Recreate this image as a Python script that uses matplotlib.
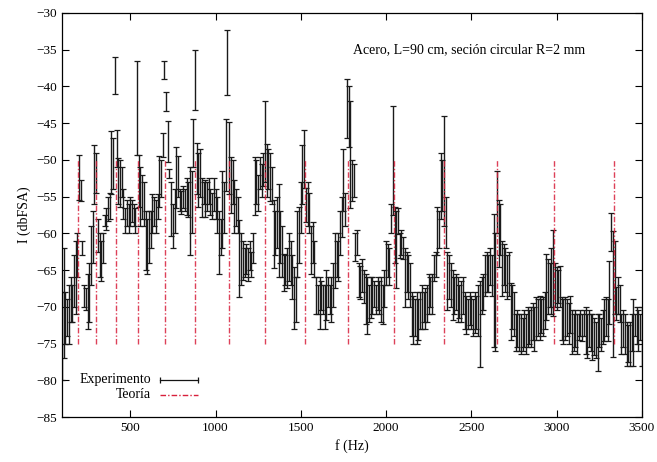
import numpy as np
import matplotlib
matplotlib.use("Agg")
import matplotlib.pyplot as plt

plt.rcParams['font.family'] = ['Liberation Serif', 'DejaVu Serif']

# Experimental spectrum: frequency grid (Hz) and error-bar limits (dBFSA)
freq = np.arange(100, 3501, 10)
low = [
    -80, -77, -75, -74, -75, -72, -72, -70, -71, -66,
    -55.5, -55.6, -63, -70, -70.5, -73, -72, -67, -64, -56,
    -54.5, -62.5, -66, -66.5, -64, -59, -59.5, -58.3, -58, -54.6,
    -54, -41, -51, -56, -56.4, -55, -58, -60, -59, -60,
    -59, -58.5, -59, -60, -49.3, -56.4, -59, -58, -59, -65,
    -65.5, -64, -62, -60, -59, -60, -58, -56.4, -55, -49.6,
    -39, -43.4, -50.3, -52.5, -60.4, -62, -60, -56.5, -55, -57,
    -57.4, -56.5, -57, -57.5, -57.8, -63, -60, -51, -43.2, -54.6,
    -56.4, -55, -57.8, -56, -57.8, -57, -56, -57.5, -58, -57,
    -58, -60, -65.6, -63, -62, -60, -54.2, -41.2, -54.6, -57.2,
    -56, -60, -59, -60, -68.7, -67, -66.4, -66, -65.5, -66.5,
    -65, -66, -64, -57.5, -56, -57, -54, -55, -53.5, -53,
    -55, -54, -55.6, -56, -64.7, -63, -62, -66, -64, -66,
    -67.8, -67, -67.5, -66.5, -67, -69, -73, -72, -66, -64,
    -60, -56, -53.8, -58.5, -59, -60, -65.6, -64, -66, -71,
    -71, -73, -70.5, -71, -73, -71.8, -70, -71, -72, -70,
    -67.5, -66, -66.5, -63, -60.5, -57, -59, -47, -48.3, -56.5,
    -55.6, -55, -63.8, -63, -68.7, -69, -68, -69.5, -72.3, -73.7,
    -72, -71.5, -71, -70, -71, -70.5, -71, -72, -72.3, -70,
    -67, -66, -67, -60, -57.5, -64, -67.4, -60.1, -63.3, -63,
    -63.5, -70, -68, -69, -70, -74, -75, -74, -75, -74.5,
    -73, -73, -72, -73, -72, -71, -70, -71, -66.5, -66,
    -63, -62, -58, -57, -59, -62, -70.5, -69, -70, -71.8,
    -71, -70.5, -72, -71.5, -72, -71, -73, -73.7, -73, -72.5,
    -73, -74, -73.5, -73, -74, -78.2, -71, -70.5, -68.5, -68,
    -68, -67, -68.5, -75.5, -76, -60, -64.6, -63, -68.5, -67,
    -68, -69, -68.5, -74.5, -73, -74, -76, -75.5, -76, -76.4,
    -76, -75.5, -76.4, -75.5, -75, -75.5, -74.5, -76, -74.5, -74,
    -74.5, -73.5, -74, -73, -71.8, -71, -70, -71, -71.3, -70,
    -70.5, -69.5, -70, -74.5, -75, -74.5, -74, -75, -73.5, -76.4,
    -76, -75.5, -76.4, -74.5, -74, -74.6, -74, -76.4, -76.9, -75.5,
    -76, -77.3, -76.5, -77, -78.7, -75.5, -76, -75, -74.6, -74,
    -74.6, -72.3, -62.4, -76.8, -71, -71.8, -71, -72, -76.4, -75.5,
    -76.4, -78, -77.5, -78, -76, -78, -74, -75, -76, -74.5,
    -78,
]
high = [
    -68, -62, -68, -69, -67, -66, -67, -63, -61, -60,
    -49.4, -52.8, -61, -67, -67.5, -65.5, -64, -59, -57, -48,
    -49, -58, -60, -61, -60, -57.5, -56.5, -55, -54.5, -46,
    -47, -36, -45.9, -49.7, -50, -51, -54, -56.5, -55.5, -56,
    -55, -55.5, -56, -56.5, -36.6, -49.3, -51, -52, -53, -57,
    -58, -57, -57, -54.6, -55, -55.5, -54.6, -49.5, -50, -46.3,
    -36.6, -40.7, -44.7, -51.3, -53, -56, -54, -48.2, -49.5, -54,
    -54.2, -53.5, -54, -52.5, -53, -51, -51.5, -44.5, -35, -47.7,
    -49, -48.5, -52.4, -53, -52.8, -53, -52.5, -54, -54.5, -52.4,
    -54, -55, -57, -58, -51.5, -53, -44.5, -32.3, -44.9, -49.6,
    -50, -52.8, -54, -55, -58.2, -60, -61, -62, -61.5, -62,
    -61, -62.5, -60, -49.6, -50, -52, -49.6, -50.5, -49, -42,
    -47.8, -48.5, -49, -51, -55.5, -57, -55, -53.3, -57, -59,
    -62.8, -63, -62, -60, -61, -63, -64.6, -66, -57, -56.4,
    -53, -48, -45.9, -53.8, -53, -54.5, -59, -58.5, -61, -66,
    -67, -66, -66.5, -67, -67, -65, -66, -67, -66, -64,
    -60, -61, -60, -57, -55, -48.5, -54.5, -39, -40, -42,
    -50, -50.5, -60, -59.5, -64, -64.5, -63.5, -65, -65.5, -66,
    -67, -66, -66, -66.5, -67, -66, -66.5, -66, -67, -65,
    -61, -61.5, -62, -56, -42.7, -56.4, -57, -56.5, -60, -59.5,
    -60.5, -62, -62.5, -63, -64, -68, -68.5, -69, -68, -69,
    -68, -67, -68, -67.5, -67, -65.5, -66, -65.5, -63, -62.5,
    -56.4, -57, -49, -50, -44, -55, -62.5, -63, -64, -65,
    -66, -65.5, -66, -67, -66.5, -66, -68, -68.5, -69, -68,
    -68.5, -69, -68, -68.5, -67, -66.5, -66, -65.5, -63, -62.5,
    -63, -62, -63, -57.4, -60, -51.5, -55.5, -56, -61, -61.5,
    -62, -63, -62.5, -66.8, -67, -68, -71, -70.5, -71, -71,
    -71.5, -70.5, -71, -70, -70.5, -70, -69.5, -70, -68.7, -69,
    -68.5, -69, -68.7, -68, -62.8, -63.5, -64, -62, -59.6, -64,
    -64.6, -65, -64.5, -68.7, -69, -68.7, -69, -69.5, -68.5, -70.5,
    -71, -70.5, -71, -71, -70.5, -71, -70.5, -70, -71, -70.5,
    -71, -71, -71.5, -72, -71, -71, -71.5, -70.5, -69, -68.7,
    -69, -63.8, -57.2, -59.7, -61, -67.3, -66, -67, -71, -70.5,
    -71, -72, -72.5, -72, -71, -69, -71, -70, -70.5, -71,
    -70,
]

# Theoretical resonance frequencies (Hz) and the level span of their markers
theory_f = [196, 297, 414, 546, 704, 880, 1077, 1291, 1525, 1778,
            2045, 2340, 2652, 2984, 3337]
theory_top = -50
theory_bottom = -75

xticks = [500, 1000, 1500, 2000, 2500, 3000, 3500]
yticks = list(range(-85, -29, 5))

low_a = np.array(low)
high_a = np.array(high)
mid = (low_a + high_a) / 2
half = (high_a - low_a) / 2

fig = plt.figure(figsize=(6.57, 4.62), dpi=100)
ax = fig.add_axes([0.0944, 0.0974, 0.8826, 0.8745])

red = '#d8203c'
ax.errorbar(freq, mid, yerr=half, fmt='none', ecolor='#1a1a1a',
            elinewidth=1.0, capsize=2.3, capthick=0.9, zorder=2)
ax.vlines(theory_f, theory_bottom, theory_top, colors=red,
          linestyles=(0, (4, 1.5, 1, 1.5)), linewidth=1.0, zorder=3,
          alpha=0.85)

ax.set_xlim(100, 3500)
ax.set_ylim(-85, -30)
ax.set_xticks(xticks)
ax.set_yticks(yticks)
ax.tick_params(direction='in', top=True, right=True, length=5,
               labelsize=9.5, width=0.8)
for s in ax.spines.values():
    s.set_linewidth(0.9)

ax.set_xlabel('f (Hz)', fontsize=10)
ax.set_ylabel('I (dbFSA)', fontsize=10)

ax.text(1805, -35, 'Acero, L=90 cm, seción circular R=2 mm', fontsize=10,
        va='center', ha='left')

# legend (gnuplot style: right-justified labels, samples to the right)
ax.text(0.153, 0.0916, 'Experimento', transform=ax.transAxes,
        ha='right', va='center', fontsize=10)
ax.text(0.153, 0.0545, 'Teoría', transform=ax.transAxes,
        ha='right', va='center', fontsize=10)
ax.plot([0.169, 0.2345], [0.0916, 0.0916], transform=ax.transAxes,
        color='#141414', lw=0.9, marker='|', markersize=5, mew=0.9)
ax.plot([0.169, 0.2345], [0.0545, 0.0545], transform=ax.transAxes,
        color=red, lw=1.0, linestyle=(0, (4, 1.5, 1, 1.5)))

fig.savefig('out.png', dpi=100)
